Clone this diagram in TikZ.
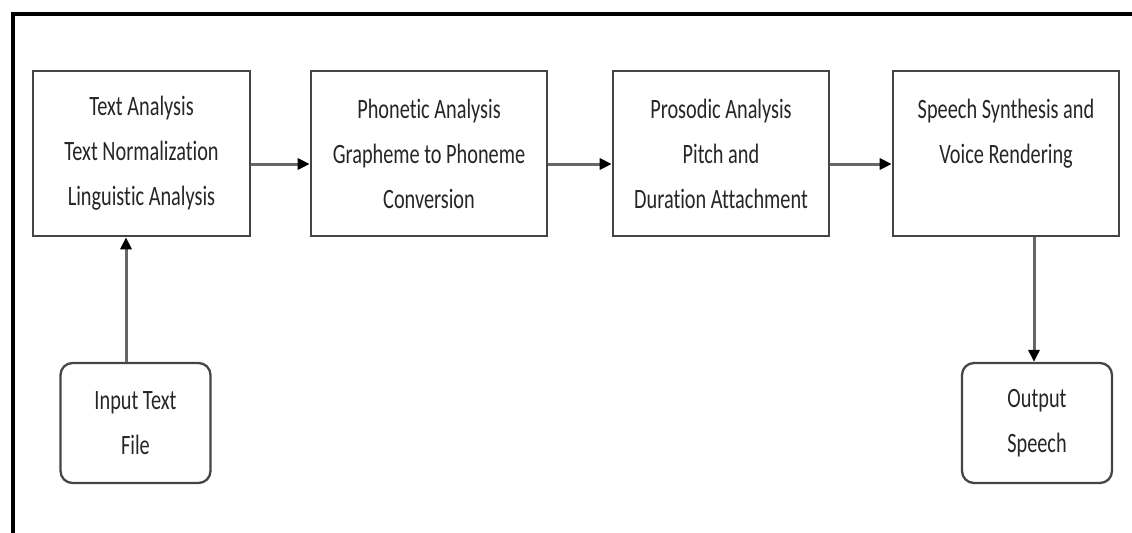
\documentclass[tikz,border=0pt]{standalone}
\usepackage{fontspec}
\setmainfont{Carlito}[FakeStretch=0.725, Ligatures=NoCommon]
\usetikzlibrary{arrows.meta}
\definecolor{inkgray}{HTML}{262626}
\definecolor{edgegray}{HTML}{454545}
\definecolor{flowgray}{HTML}{666666}
\begin{document}
\begin{tikzpicture}[x=0.5pt,y=-0.5pt,
  every node/.style={font=\fontsize{14pt}{22.5pt}\selectfont, text=inkgray, align=center, inner sep=0pt},
  stagebox/.style={draw=edgegray, line width=1.3pt, fill=white, minimum height=82.5pt},
  endbox/.style={draw=edgegray, line width=1.15pt, fill=white, rounded corners=6pt, minimum width=75pt, minimum height=60pt},
  flow/.style={draw=flowgray, line width=1.5pt, -{Triangle[length=6pt,width=5.5pt,black]}},
  frameline/.style={draw=black, line width=2.2pt, line cap=rect}
]
\useasboundingbox (0,0) rectangle (1132,532);

% outer frame: top and left rules only
\draw[frameline] (13,532) -- (13,14) -- (1132,14);

% processing stages
\node[stagebox, minimum width=108.5pt] (text) at (141.5,153.5)
  {Text Analysis\\Text Normalization\\Linguistic Analysis};
\node[stagebox, minimum width=118pt] (phon) at (429,153.5)
  {Phonetic Analysis\\Grapheme to Phoneme\\Conversion};
\node[stagebox, minimum width=108pt] (pros) at (721,153.5)
  {Prosodic Analysis\\Pitch and\\Duration Attachment};
\node[stagebox, minimum width=113pt] (synth) at (1006,153.5)
  {Speech Synthesis and\\Voice Rendering\\~};

% input and output terminals
\node[endbox] (input) at (135.5,423) {Input Text\\File};
\node[endbox] (output) at (1037,423) {Output\\Speech};

% connectors
\draw[flow] ([yshift=-5.25pt]text.east) -- ([yshift=-5.25pt]phon.west);
\draw[flow] ([yshift=-5.25pt]phon.east) -- ([yshift=-5.25pt]pros.west);
\draw[flow] ([yshift=-5.25pt]pros.east) -- ([yshift=-5.25pt]synth.west);
\draw[flow] (input.north -| 126,0) -- (text.south -| 126,0);
\draw[flow] (synth.south -| 1034,0) -- (output.north -| 1034,0);
\end{tikzpicture}
\end{document}
